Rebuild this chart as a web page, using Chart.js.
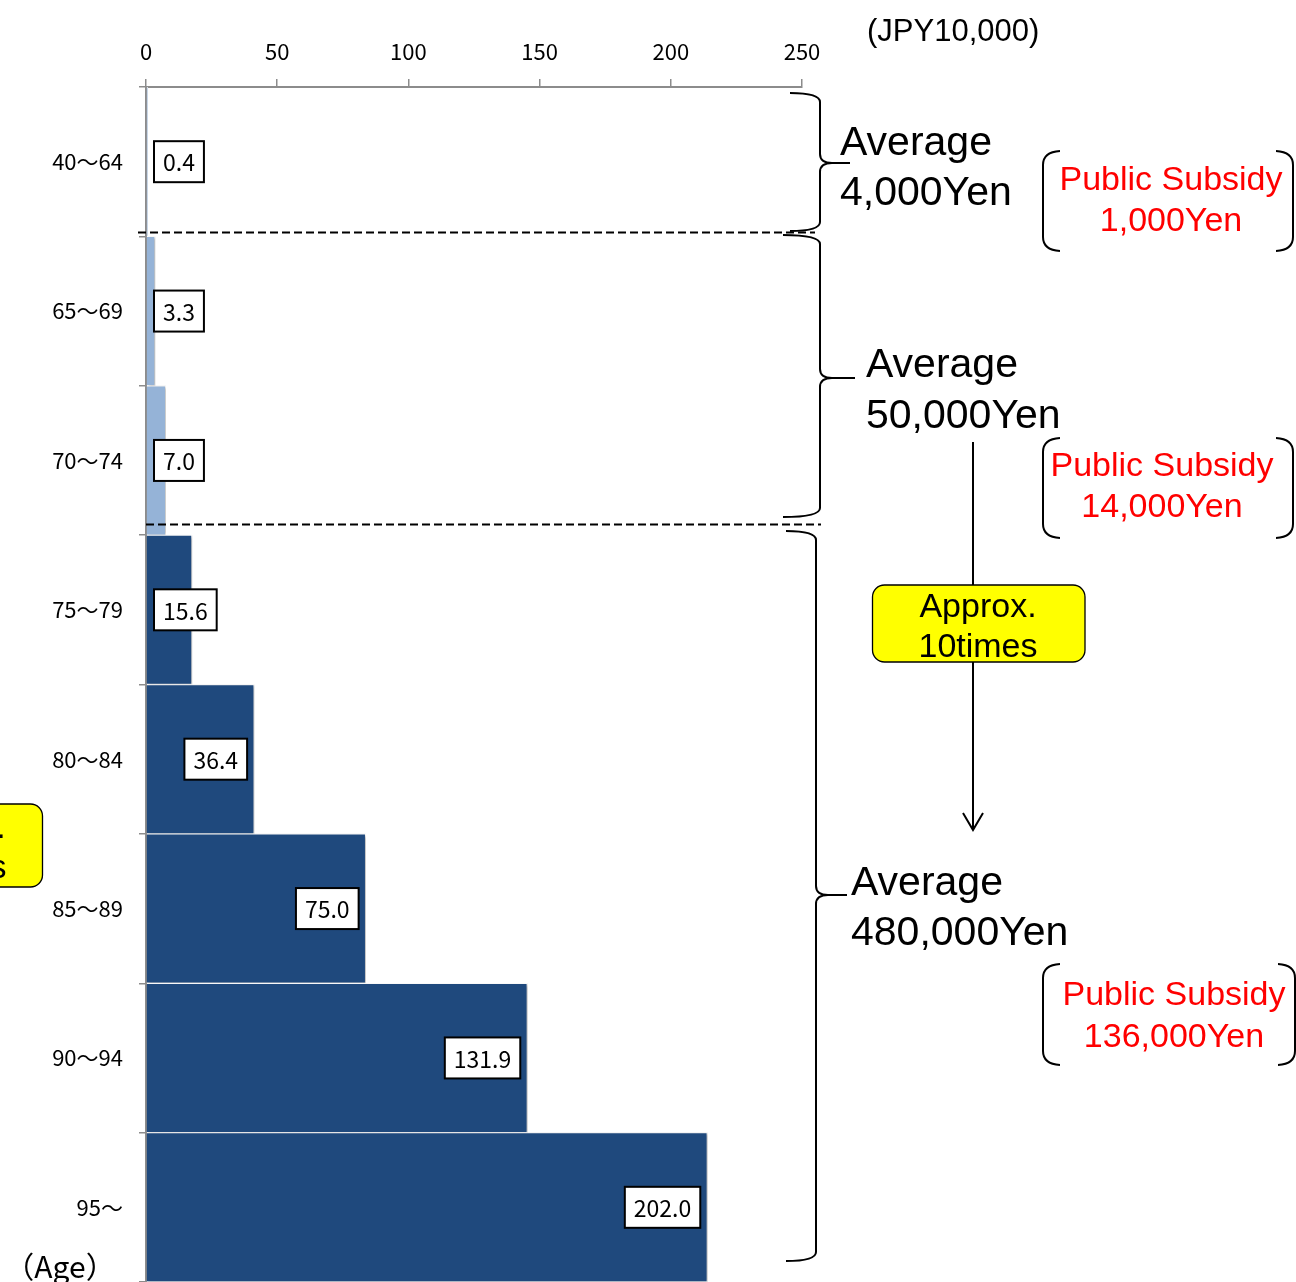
<!DOCTYPE html>
<html>
<head>
<meta charset="utf-8">
<script src="https://cdn.jsdelivr.net/npm/chart.js@4.4.1/dist/chart.umd.min.js"></script>
<style>
  html, body { margin: 0; padding: 0; background: #fff; overflow: hidden; }
  #wrap { width: 1296px; height: 1282px; position: relative; }
</style>
</head>
<body>
<div id="wrap"><canvas id="costChart"></canvas></div>
<script>
// Age groups and bar lengths as drawn (JPY10,000)
const ageGroups = ["40～64", "65～69", "70～74", "75～79", "80～84", "85～89", "90～94", "95～"];
const barValues = [0.6, 3.4, 7.5, 17.5, 41.2, 83.7, 145.3, 213.9];
// printed value labels
const labelTexts = ["0.4", "3.3", "7.0", "15.6", "36.4", "75.0", "131.9", "202.0"];
const barColors = ["#95b3d7", "#95b3d7", "#95b3d7", "#1f497d", "#1f497d", "#1f497d", "#1f497d", "#1f497d"];
const xTicks = [0, 50, 100, 150, 200, 250];

const AXIS_GRAY = "#8c8c8c";
const CJK = '"Noto Sans CJK JP", "Noto Sans", sans-serif';
const ARIAL = '"Liberation Sans", Arial, sans-serif';

function brace(ctx, xs, xv, xt, y0, ym, y1) {
  const r = 9;
  ctx.beginPath();
  ctx.moveTo(xs, y0);
  ctx.quadraticCurveTo(xv, y0, xv, y0 + r);
  ctx.lineTo(xv, ym - r);
  ctx.quadraticCurveTo(xv, ym, xv + 12, ym);
  ctx.lineTo(xt, ym);
  ctx.moveTo(xv + 12, ym);
  ctx.quadraticCurveTo(xv, ym, xv, ym + r);
  ctx.lineTo(xv, y1 - r);
  ctx.quadraticCurveTo(xv, y1, xs, y1);
  ctx.stroke();
}

function bracket(ctx, x, y0, y1, dir) {
  const c = 17 * dir, r = 14;
  ctx.beginPath();
  ctx.moveTo(x + c, y0);
  ctx.quadraticCurveTo(x, y0 + 1, x, y0 + r);
  ctx.lineTo(x, y1 - r);
  ctx.quadraticCurveTo(x, y1 - 1, x + c, y1);
  ctx.stroke();
}

function roundBox(ctx, x, y, w, h, r) {
  ctx.beginPath();
  ctx.roundRect(x, y, w, h, r);
  ctx.fillStyle = "#ffff00";
  ctx.fill();
  ctx.lineWidth = 1.3;
  ctx.strokeStyle = "#000";
  ctx.stroke();
}

// bar shadow + boxed value labels
const valueLabels = {
  id: "valueLabels",
  beforeDatasetsDraw(chart) {
    const ctx = chart.ctx;
    ctx.save();
    ctx.shadowColor = "rgba(0,0,0,0.28)";
    ctx.shadowBlur = 3;
    ctx.shadowOffsetX = 2;
    ctx.shadowOffsetY = 1;
  },
  afterDatasetsDraw(chart) {
    const ctx = chart.ctx;
    ctx.restore();
    const x0 = chart.scales.x.getPixelForValue(0);
    const meta = chart.getDatasetMeta(0);
    ctx.save();
    ctx.font = "23px " + CJK;
    meta.data.forEach((bar, i) => {
      const text = labelTexts[i];
      const w = ctx.measureText(text).width + 18;
      const h = 41;
      const left = Math.max(bar.x - 7 - w, x0 + 8);
      const top = bar.y - h / 2;
      ctx.fillStyle = "#fff";
      ctx.fillRect(left, top, w, h);
      ctx.lineWidth = 2;
      ctx.strokeStyle = "#000";
      ctx.strokeRect(left, top, w, h);
      ctx.fillStyle = "#000";
      ctx.textAlign = "center";
      ctx.textBaseline = "middle";
      ctx.fillText(text, left + w / 2, bar.y + 1);
    });
    ctx.restore();
  }
};

// dashed separators, braces, notes
const notes = {
  id: "notes",
  afterDraw(chart) {
    const ctx = chart.ctx;
    ctx.save();

    ctx.strokeStyle = "#000";
    ctx.lineWidth = 2;
    ctx.setLineDash([8, 4]);
    ctx.beginPath();
    ctx.moveTo(138, 232.5); ctx.lineTo(815, 232.5);
    ctx.moveTo(146, 524.5); ctx.lineTo(821, 524.5);
    ctx.stroke();
    ctx.setLineDash([]);

    brace(ctx, 790, 820, 850, 93, 163, 231);
    brace(ctx, 783, 820, 855, 235, 378, 517);
    brace(ctx, 786, 816, 847, 531, 895, 1261);

    ctx.fillStyle = "#000";
    ctx.textAlign = "left";
    ctx.textBaseline = "alphabetic";
    ctx.font = "41px " + ARIAL;
    ctx.fillText("Average", 840, 155);
    ctx.fillText("4,000Yen", 840, 205);
    ctx.fillText("Average", 866, 377);
    ctx.fillText("50,000Yen", 866, 428);
    ctx.fillText("Average", 851, 895);
    ctx.fillText("480,000Yen", 851, 945);

    ctx.font = "31px " + ARIAL;
    ctx.fillText("(JPY10,000)", 867, 41);

    ctx.font = "30px " + CJK;
    ctx.textAlign = "center";
    ctx.fillText("（Age）", 60, 1278);

    // public subsidy brackets
    ctx.lineWidth = 2;
    const subsidies = [
      { top: 151, bot: 251, cx: 1171, b1: 190, b2: 231, amount: "1,000Yen", right: 1293 },
      { top: 438, bot: 538, cx: 1162, b1: 476, b2: 517, amount: "14,000Yen", right: 1293 },
      { top: 964, bot: 1065, cx: 1174, b1: 1005, b2: 1047, amount: "136,000Yen", right: 1295 }
    ];
    subsidies.forEach((s) => {
      bracket(ctx, 1043, s.top, s.bot, 1);
      bracket(ctx, s.right, s.top, s.bot, -1);
      ctx.fillStyle = "#ff0000";
      ctx.font = "34px " + ARIAL;
      ctx.textAlign = "center";
      ctx.fillText("Public Subsidy", s.cx, s.b1);
      ctx.fillText(s.amount, s.cx, s.b2);
    });

    // arrow
    ctx.strokeStyle = "#000";
    ctx.lineWidth = 2;
    ctx.beginPath();
    ctx.moveTo(973, 442); ctx.lineTo(973, 830);
    ctx.moveTo(963, 813); ctx.lineTo(973, 830); ctx.lineTo(983, 813);
    ctx.stroke();

    // yellow notes
    roundBox(ctx, 872.5, 585, 212.5, 77, 12);
    roundBox(ctx, -170, 804, 212.5, 83, 12);
    ctx.fillStyle = "#000";
    ctx.font = "34px " + ARIAL;
    ctx.textAlign = "center";
    ctx.fillText("Approx.", 978, 617);
    ctx.fillText("10times", 978, 657);
    ctx.fillText("Approx.", -53, 838);
    ctx.fillText("10times", -53, 878);

    ctx.restore();
  }
};

new Chart(document.getElementById("costChart"), {
  type: "bar",
  data: {
    labels: ageGroups,
    datasets: [
      {
        data: barValues,
        backgroundColor: barColors,
        borderColor: "#ffffff",
        borderWidth: 1,
        barPercentage: 1,
        categoryPercentage: 1,
      },
    ],
  },
  options: {
    indexAxis: "y",
    responsive: true,
    maintainAspectRatio: false,
    animation: false,
    layout: { padding: { left: 0, right: 494, top: 0, bottom: 0 } },
    plugins: {
      legend: { display: false },
      tooltip: { enabled: false },
    },
    scales: {
      x: {
        position: "top",
        min: 0,
        max: 250,
        afterBuildTicks: (scale) => {
          scale.ticks = xTicks.map((v) => ({ value: v }));
        },
        afterFit: (scale) => { scale.height = 87; },
        grid: { drawOnChartArea: false, tickLength: 8, color: AXIS_GRAY, lineWidth: 1.5 },
        border: { color: AXIS_GRAY, width: 2 },
        ticks: { color: "#000", padding: 14, font: { family: CJK, size: 22 } },
      },
      y: {
        afterFit: (scale) => {
          scale.width = 146;
          scale.paddingTop = 0;
          scale.paddingBottom = 0;
        },
        grid: { drawOnChartArea: false, tickLength: 7, color: AXIS_GRAY, lineWidth: 1.5, offset: true },
        border: { color: AXIS_GRAY, width: 2 },
        ticks: { color: "#000", padding: 16, font: { family: CJK, size: 22 } },
      },
    },
  },
  plugins: [valueLabels, notes],
});
</script>
</body>
</html>
